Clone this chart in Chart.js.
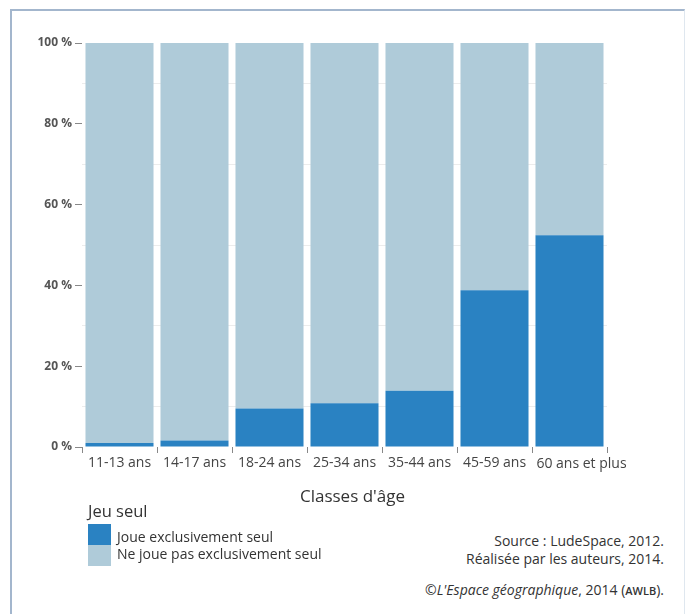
<!DOCTYPE html>
<html>
<head>
<meta charset="utf-8">
<script src="https://cdn.jsdelivr.net/npm/chart.js@4.4.1/dist/chart.umd.min.js"></script>
<style>
  html, body { margin: 0; padding: 0; background: #fff; }
  body { width: 686px; height: 614px; position: relative; overflow: hidden; font-family: "Open Sans", sans-serif; color: #333; }
  #frame { position: absolute; left: 10px; top: 9px; width: 672px; height: 620px; border-left: 2px solid #a3b6cd; border-top: 2px solid #a3b6cd; border-right: 1px solid #dfe7ef; }
  #wrap { position: absolute; left: 0; top: 0; width: 686px; height: 507px; }
  .t { position: absolute; white-space: nowrap; font-size: 14px; line-height: 19px; color: #333; }
  .r { right: 22px; text-align: right; }
  .sw { position: absolute; left: 88px; width: 23px; height: 21px; }
</style>
</head>
<body>
<div id="frame"></div>
<div id="wrap"><canvas id="c" width="686" height="507"></canvas></div>

<div class="t" style="left:88px; top:500px; font-size:16.5px; line-height:22px;">Jeu seul</div>
<div class="sw" style="top:524px; background:#2a82c2;"></div>
<div class="sw" style="top:545px; background:#afcbd9;"></div>
<div class="t" id="lg1" style="left:117px; top:527px;"></div>
<div class="t" id="lg2" style="left:117px; top:544px;"></div>

<div class="t r" style="top:531px;">Source : LudeSpace, 2012.</div>
<div class="t r" style="top:549px;">Réalisée par les auteurs, 2014.</div>
<div class="t r" style="top:580px;">©<i>L'Espace géographique</i>, 2014 (<span style="font-size:11px; font-weight:600;">AWLB</span>).</div>

<script>
const categories = ["11-13 ans", "14-17 ans", "18-24 ans", "25-34 ans", "35-44 ans", "45-59 ans", "60 ans et plus"];
const seriesNames = ["Joue exclusivement seul", "Ne joue pas exclusivement seul"];
const joueSeul = [1.0, 1.6, 9.5, 10.8, 13.9, 38.8, 52.4];
const nonSeul = [99.0, 98.4, 90.5, 89.2, 86.1, 61.2, 47.6];
const yTicks = [0, 20, 40, 60, 80, 100];
const xTitle = "Classes d'âge";

document.getElementById('lg1').textContent = seriesNames[0];
document.getElementById('lg2').textContent = seriesNames[1];

const xFont = { family: 'Open Sans', size: 14 };
const lastIdx = categories.length - 1;

// draws the last category label nudged to the right and the axis title, as in the original
const xTextPlugin = {
  id: 'xText',
  afterDraw(chart) {
    const sx = chart.scales.x;
    const ctx = chart.ctx;
    ctx.save();
    ctx.textAlign = 'center';
    ctx.textBaseline = 'middle';
    ctx.font = xFont.size + 'px "' + xFont.family + '"';
    ctx.fillStyle = '#444';
    ctx.fillText(categories[lastIdx], sx.getPixelForValue(lastIdx) + 12, sx.top + 17);
    ctx.font = '17px "Open Sans"';
    ctx.fillStyle = '#333';
    ctx.fillText(xTitle, (sx.left + sx.right) / 2 + 8, sx.top + 50);
    ctx.restore();
  }
};

new Chart(document.getElementById('c'), {
  type: 'bar',
  data: {
    labels: categories,
    datasets: [
      { label: seriesNames[0], data: joueSeul, backgroundColor: '#2a82c2', borderWidth: 0 },
      { label: seriesNames[1], data: nonSeul, backgroundColor: '#afcbd9', borderWidth: 0 }
    ]
  },
  plugins: [xTextPlugin],
  options: {
    responsive: false,
    animation: false,
    layout: { padding: { left: 0, right: 79, top: 43, bottom: 0 } },
    plugins: { legend: { display: false }, tooltip: { enabled: false } },
    datasets: { bar: { categoryPercentage: 1, barPercentage: 0.907 } },
    scales: {
      x: {
        stacked: true,
        border: { display: false },
        grid: { drawOnChartArea: false, drawTicks: true, tickLength: 6, tickColor: '#888' },
        ticks: {
          color: '#444', font: xFont, padding: 2, maxRotation: 0, autoSkip: false,
          callback: function (v, i) { return i === lastIdx ? '' : this.getLabelForValue(v); }
        },
        title: { display: false },
        afterFit: (s) => { s.height = 60; }
      },
      y: {
        stacked: true,
        min: 0, max: 100,
        border: { display: false },
        afterBuildTicks: (s) => { s.ticks = [0,10,20,30,40,50,60,70,80,90,100].map(v => ({ value: v })); },
        grid: {
          color: (ctx) => (ctx.tick && ctx.tick.value % 20 !== 0) ? '#ececec' : 'rgba(0,0,0,0)',
          tickColor: (ctx) => (ctx.tick && yTicks.includes(ctx.tick.value)) ? '#888' : 'rgba(0,0,0,0)',
          tickLength: 7,
          lineWidth: 1
        },
        ticks: {
          color: '#555',
          font: { family: 'Open Sans', size: 12, weight: '700' },
          padding: 3,
          autoSkip: false,
          callback: (v) => yTicks.includes(v) ? v + ' %' : ''
        },
        afterFit: (s) => { s.width = 82; }
      }
    }
  }
});
</script>
</body>
</html>
